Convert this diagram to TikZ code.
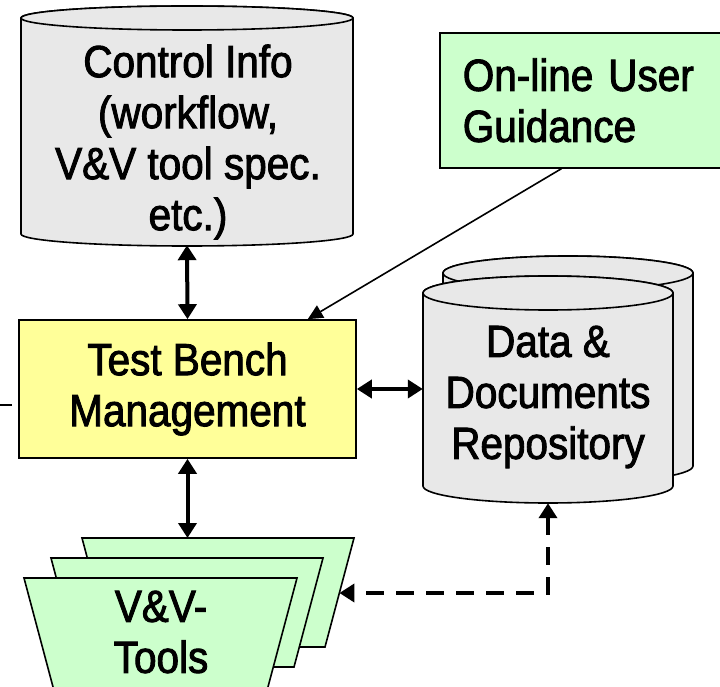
\documentclass[tikz,border=0pt]{standalone}
\usepackage{fontspec}
\setmainfont{Liberation Sans}[FakeStretch=0.9, FakeBold=2]
\usetikzlibrary{arrows.meta,calc}
\definecolor{cylgray}{RGB}{232,232,232}
\definecolor{tbyellow}{RGB}{255,255,153}
\definecolor{vvgreen}{RGB}{204,255,204}
\newcommand{\drawcyl}[6]{%
  \pgfmathsetmacro{\cylrx}{(#2-#1)/2}%
  \filldraw[shapeline, fill=#6] (#1,#3) -- (#1,#4) arc[start angle=180, end angle=360, x radius=\cylrx pt, y radius=#5pt] -- (#2,#3) arc[start angle=0, end angle=180, x radius=\cylrx pt, y radius=#5pt] -- cycle;
  \filldraw[shapeline, fill=#6] ({(#1+#2)/2},#3) ellipse[x radius=\cylrx pt, y radius=#5pt];
}
\begin{document}
\begin{tikzpicture}[x=1pt, y=1pt,
  font=\fontsize{45}{51}\selectfont,
  shapeline/.style={draw=black, line width=1.6pt},
  conn/.style={line width=4pt, {Triangle[length=15pt,width=18pt]}-{Triangle[length=15pt,width=18pt]}},
  connthin/.style={line width=1.6pt, -{Triangle[length=15pt,width=14pt]}},
  conndash/.style={line width=4pt, dash pattern=on 18pt off 12pt, {Triangle[length=15pt,width=18pt]}-{Triangle[length=15pt,width=18pt]}},
  label/.style={align=center, inner sep=0pt}]
\useasboundingbox (0,0) rectangle (720,-687);

% Control info cylinder
\drawcyl{21}{353}{-18}{-234}{12}{cylgray}
\node[inner sep=0pt, minimum width=332pt, minimum height=239pt] (ci) at (187,-125.5) {};
\node[label] (citext) at (188,-142) {Control Info\\(workflow,\\V\&V tool spec.\\etc.)};

% Data & Documents repository (two stacked cylinders)
\drawcyl{443}{693}{-273}{-466}{17}{cylgray}
\drawcyl{423}{673}{-293}{-486}{17}{cylgray}
\node[inner sep=0pt, minimum width=250pt, minimum height=227pt] (repo) at (548,-389.5) {};
\node[label] (repotext) at (548,-397) {Data \&\\Documents\\Repository};

% On-line user guidance
\node[shapeline, fill=vvgreen, anchor=north west, minimum width=301pt, minimum height=135pt,
      text width=255pt, inner xsep=23pt, inner ysep=0pt, align=left] (ug) at (439,-32) {On-line User\\Guidance};

% Test bench management
\node[shapeline, fill=tbyellow, minimum width=337pt, minimum height=138pt, align=center, inner sep=0pt]
      (tb) at (187.5,-389) {Test Bench\\Management};

% V&V tools (stacked trapezoids)
\filldraw[shapeline, fill=vvgreen] (82,-538) -- (354,-538) -- (325,-647) -- (111,-647) -- cycle;
\filldraw[shapeline, fill=vvgreen] (51,-558) -- (323,-558) -- (294,-667) -- (80,-667) -- cycle;
\filldraw[shapeline, fill=vvgreen] (24,-578) -- (297,-578) -- (265.3,-697) -- (55.7,-697) -- cycle;
\coordinate (vvtop) at (188,-538);
\coordinate (vvside) at (339.4,-593);
\node[label] (vvtext) at (161,-632) {V\&V-\\Tools};

% stub line at the left
\coordinate (stubA) at (0,-405);
\coordinate (stubB) at (12,-405);
\draw[line width=1.6pt] (stubA) -- (stubB);

% connectors
\draw[conn] (ci.south) -- (tb.north);
\draw[conn] (tb.east) -- (tb.east -| repo.west);
\draw[conn] (tb.south) -- (tb.south |- vvtop);
\draw[connthin] ($(ug.south west)!0.405!(ug.south east)$) -- ($(tb.north west)!0.855!(tb.north east)$);
\draw[conndash] (repo.south) -- (repo.south |- vvside) -- (vvside);
\end{tikzpicture}
\end{document}
